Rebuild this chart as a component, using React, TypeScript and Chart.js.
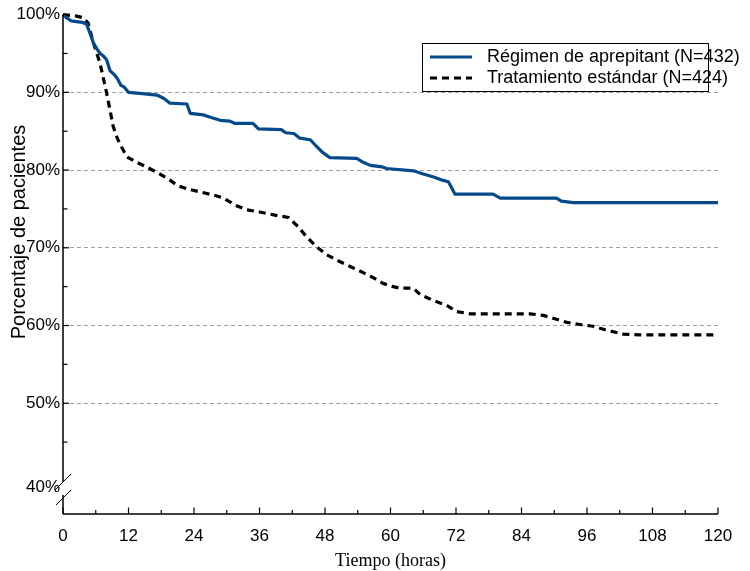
import React, { useEffect, useRef } from 'react';
import { Chart, registerables } from 'chart.js';

Chart.register(...registerables);

const seriesNames = ['Régimen de aprepitant (N=432)', 'Tratamiento estándar (N=424)'];
const xTickValues = [0, 12, 24, 36, 48, 60, 72, 84, 96, 108, 120];
const yTickValues = [40, 50, 60, 70, 80, 90, 100];
const xTitle = 'Tiempo (horas)';
const yTitle = 'Porcentaje de pacientes';

const aprepitantHours = [0, 0.8, 1.5, 3.5, 4.3, 5.0, 5.6, 6.3, 6.8, 7.5, 8.0, 8.6, 9.5, 10.1, 10.6, 11.2, 12.0, 15.0, 17.2, 18.5, 19.6, 22.7, 23.3, 25.7, 27.0, 28.8, 30.5, 31.5, 34.8, 35.8, 40.0, 40.8, 42.3, 43.4, 45.3, 46.5, 47.5, 48.9, 53.8, 55.0, 56.3, 58.5, 59.3, 64.2, 66.0, 67.9, 69.5, 70.6, 71.3, 71.8, 78.8, 80.1, 90.4, 91.3, 93.5, 120];
const aprepitantPct = [100, 99.5, 99.2, 99.0, 98.8, 97.5, 96.3, 95.5, 95.0, 94.6, 94.2, 92.8, 92.2, 91.6, 90.9, 90.7, 90.0, 89.8, 89.65, 89.2, 88.6, 88.5, 87.3, 87.1, 86.8, 86.4, 86.3, 86.0, 86.0, 85.3, 85.2, 84.8, 84.7, 84.1, 83.9, 83.0, 82.3, 81.6, 81.5, 81.0, 80.6, 80.4, 80.2, 79.9, 79.5, 79.1, 78.7, 78.5, 77.6, 76.9, 76.9, 76.4, 76.4, 76.0, 75.8, 75.8];

const standardHours = [0, 2.5, 3.7, 4.6, 5.6, 6.8, 8.0, 9.2, 10.0, 10.7, 11.7, 13.5, 15.3, 17.5, 19.6, 21.0, 22.7, 25.0, 27.5, 29.4, 31.5, 33.6, 36.0, 38.8, 41.3, 43.1, 44.5, 46.5, 48.3, 50.5, 52.6, 55.0, 57.0, 58.7, 60.5, 61.7, 64.2, 65.4, 67.9, 70.3, 72.1, 74.6, 85.6, 88.0, 90.4, 92.3, 95.0, 97.1, 99.6, 102.6, 105.7, 120];
const standardPct = [100, 99.8, 99.6, 98.9, 96.3, 93.7, 89.9, 85.6, 84.0, 83.0, 81.7, 81.0, 80.4, 79.6, 78.7, 78.0, 77.6, 77.2, 76.8, 76.4, 75.5, 74.9, 74.6, 74.2, 73.9, 72.7, 71.5, 70.1, 69.1, 68.3, 67.6, 66.8, 66.1, 65.4, 65.0, 64.8, 64.8, 64.0, 63.2, 62.6, 61.8, 61.5, 61.5, 61.3, 60.8, 60.4, 60.1, 59.9, 59.4, 58.9, 58.8, 58.8];

const BLUE = '#044a8a';
const SANS = '"Liberation Sans", Arial, sans-serif';
const SERIF = '"Liberation Serif", "Times New Roman", serif';

const toPoints = (xs: number[], ys: number[]) => xs.map((x, i) => ({ x, y: ys[i] }));

const decorPlugin = {
  id: 'decor',
  afterDraw(chart: any) {
    const { ctx, chartArea, scales } = chart;
    const xs = scales.x;
    const ys = scales.y;
    const left = chartArea.left;
    const bottom = chartArea.bottom;
    const top = ys.getPixelForValue(100);
    ctx.save();
    ctx.strokeStyle = '#000';
    ctx.lineWidth = 1.5;
    // y axis with break
    const gapTop = 482;
    const gapBot = 495;
    ctx.beginPath();
    ctx.moveTo(left, top);
    ctx.lineTo(left, gapTop);
    ctx.moveTo(left, gapBot);
    ctx.lineTo(left, bottom);
    ctx.stroke();
    // break marks
    ctx.lineWidth = 1;
    ctx.beginPath();
    ctx.moveTo(left - 8, 490);
    ctx.lineTo(left + 8, 474);
    ctx.moveTo(left - 7, 505);
    ctx.lineTo(left + 8, 490);
    ctx.stroke();
    // y ticks inward
    ctx.lineWidth = 1.2;
    for (let v = 45; v <= 100; v += 5) {
      const y = ys.getPixelForValue(v);
      const len = v % 10 === 0 ? 6 : 4.5;
      ctx.beginPath();
      ctx.moveTo(left, y);
      ctx.lineTo(left + len, y);
      ctx.stroke();
    }
    // x axis
    ctx.lineWidth = 1.5;
    ctx.beginPath();
    ctx.moveTo(left, bottom);
    ctx.lineTo(xs.getPixelForValue(120), bottom);
    ctx.stroke();
    ctx.lineWidth = 1.2;
    for (let t = 0; t <= 120; t += 6) {
      const x = xs.getPixelForValue(t);
      const len = t % 12 === 0 ? 6.5 : 4;
      ctx.beginPath();
      ctx.moveTo(x, bottom);
      ctx.lineTo(x, bottom - len);
      ctx.stroke();
    }
    // 40% label
    ctx.fillStyle = '#000';
    ctx.font = `17px ${SANS}`;
    ctx.textAlign = 'right';
    ctx.textBaseline = 'middle';
    ctx.fillText(`${yTickValues[0]}%`, left - 3, 487);
    // titles
    ctx.textAlign = 'center';
    ctx.font = `18px ${SERIF}`;
    ctx.fillText(xTitle, (left + chartArea.right) / 2, 561);
    ctx.save();
    ctx.translate(19, 232);
    ctx.rotate(-Math.PI / 2);
    ctx.font = `20px ${SANS}`;
    ctx.fillText(yTitle, 0, 0);
    ctx.restore();
    // legend
    const bx = 422.5, by = 43.5, bw = 286, bh = 48;
    ctx.fillStyle = '#fff';
    ctx.fillRect(bx, by, bw, bh);
    ctx.strokeStyle = '#000';
    ctx.lineWidth = 1;
    ctx.strokeRect(bx, by, bw, bh);
    const rows = [57, 78];
    ctx.lineWidth = 3;
    ctx.strokeStyle = BLUE;
    ctx.setLineDash([]);
    ctx.beginPath();
    ctx.moveTo(430, rows[0]);
    ctx.lineTo(472, rows[0]);
    ctx.stroke();
    ctx.strokeStyle = '#000';
    ctx.setLineDash([7, 5]);
    ctx.beginPath();
    ctx.moveTo(430, rows[1]);
    ctx.lineTo(472, rows[1]);
    ctx.stroke();
    ctx.setLineDash([]);
    ctx.fillStyle = '#000';
    ctx.textAlign = 'left';
    ctx.font = `18px ${SANS}`;
    ctx.fillText(seriesNames[0], 487, rows[0]);
    ctx.fillText(seriesNames[1], 487, rows[1]);
    ctx.restore();
  },
};

export default function App() {
  const ref = useRef<HTMLCanvasElement | null>(null);
  useEffect(() => {
    if (!ref.current) return;
    const chart = new Chart(ref.current, {
      type: 'line',
      data: {
        datasets: [
          {
            label: seriesNames[0],
            data: toPoints(aprepitantHours, aprepitantPct),
            borderColor: BLUE,
            borderWidth: 3.2,
            pointRadius: 0,
            tension: 0,
            borderJoinStyle: 'round',
            clip: 8,
          },
          {
            label: seriesNames[1],
            data: toPoints(standardHours, standardPct),
            borderColor: '#000',
            borderWidth: 3.2,
            borderDash: [7, 5],
            pointRadius: 0,
            tension: 0,
            clip: 8,
          },
        ],
      },
      options: {
        animation: false,
        responsive: true,
        maintainAspectRatio: false,
        layout: { padding: { left: 0, right: 32, top: 14.6, bottom: 0 } },
        plugins: { legend: { display: false }, tooltip: { enabled: false } },
        scales: {
          x: {
            type: 'linear',
            min: 0,
            max: 120,
            afterBuildTicks: (s: any) => {
              s.ticks = xTickValues.map((v) => ({ value: v }));
            },
            afterFit: (s: any) => {
              s.height = 57;
            },
            grid: { display: false, drawTicks: false },
            border: { display: false },
            ticks: {
              padding: 12,
              color: '#000',
              font: { family: SANS, size: 17 },
              maxRotation: 0,
              autoSkip: false,
              callback: (v: any) => String(v),
            },
          },
          y: {
            type: 'linear',
            min: 35.75,
            max: 100,
            afterBuildTicks: (s: any) => {
              s.ticks = yTickValues.map((v) => ({ value: v }));
            },
            afterFit: (s: any) => {
              s.width = 63;
            },
            grid: {
              drawTicks: false,
              lineWidth: 1,
              color: (c: any) => {
                const v = c.tick ? c.tick.value : 0;
                return v >= 50 && v <= 90 ? '#a0a0a0' : 'rgba(0,0,0,0)';
              },
            } as any,
            border: { display: false, dash: [4, 3] },
            ticks: {
              padding: 3,
              color: '#000',
              font: { family: SANS, size: 17 },
              autoSkip: false,
              callback: (v: any) => (v >= 50 ? `${v}%` : ''),
            },
          },
        },
      },
      plugins: [decorPlugin],
    });
    return () => chart.destroy();
  }, []);
  return (
    <div style={{ position: 'absolute', left: 0, top: 0, width: 750, height: 571, background: '#fff' }}>
      <canvas ref={ref} />
    </div>
  );
}
